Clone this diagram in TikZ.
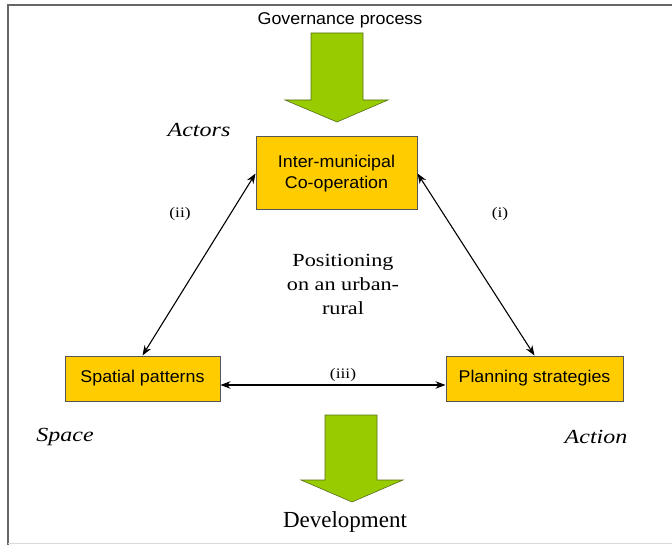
\documentclass[tikz,border=0pt]{standalone}
\usepackage{fontspec}
\setmainfont{Liberation Serif}
\newfontfamily\wserif[FakeStretch=1.2]{Liberation Serif}
\newfontfamily\wsans[FakeStretch=1.05]{Liberation Sans}
\usetikzlibrary{arrows.meta}
\definecolor{boxyellow}{HTML}{FFCC00}
\definecolor{boxedge}{HTML}{555555}
\definecolor{bigarrow}{HTML}{99CC00}
\definecolor{bigarrowedge}{HTML}{55701A}
\tikzset{
  ybox/.style={draw=boxedge, line width=1pt, fill=boxyellow, inner sep=0pt,
    font=\wsans\fontsize{17}{21}\selectfont, align=center},
  link/.style={line width=1.1pt, {Stealth[length=10pt,width=7.5pt]}-{Stealth[length=10pt,width=7.5pt]}},
  greenarrow/.style={fill=bigarrow, draw=bigarrowedge, line width=0.6pt},
  corner/.style={font=\wserif\itshape\fontsize{20}{24}\selectfont},
  roman/.style={font=\wserif\fontsize{14.5}{16}\selectfont},
}
\begin{document}
\begin{tikzpicture}[x=1pt,y=-1pt]
\useasboundingbox (0,0) rectangle (672,545);
% frame
\draw[draw=gray!80!black, line width=2pt] (8,545) -- (8,5) -- (672,5);
\draw[draw=gray!30, line width=1pt] (8,543) -- (672,543);

% top label and arrow
\node[font=\wsans\fontsize{17}{18}\selectfont] (gov) at (340,20) {Governance process};
\draw[greenarrow] (311,33) -- (363,33) -- (363,100) -- (388,100) -- (337,122) -- (285,100) -- (311,100) -- cycle;

% boxes
\node[ybox, minimum width=161pt, minimum height=73pt] (im) at (336.5,173.5) {Inter-municipal\\Co-operation};
\node[ybox, minimum width=155pt, minimum height=45pt] (sp) at (142.5,378.5) {Spatial patterns};
\node[ybox, minimum width=177pt, minimum height=45pt] (pl) at (534.5,378.5) {Planning strategies};

% connectors
\draw[link] (im.west) -- (sp.north);
\draw[link] (im.east) -- (pl.north);
\draw[link] ([yshift=-6.5pt]sp.east) -- ([yshift=-6.5pt]pl.west);

% labels
\node[roman] (lii) at (180,214) {(ii)};
\node[roman] (li) at (500,214) {(i)};
\node[roman] (liii) at (343,375) {(iii)};
\node[corner] (act) at (199,130) {Actors};
\node[corner] (spc) at (65,437) {Space};
\node[corner] (acn) at (596,437) {Action};
\node[font=\wserif\fontsize{18.5}{24}\selectfont, align=center] (pos) at (343,284) {Positioning\\on an urban-\\rural};

% bottom arrow and label
\draw[greenarrow] (325,415) -- (377,415) -- (377,480) -- (403,480) -- (352,502) -- (301,480) -- (325,480) -- cycle;
\node[font=\fontsize{23}{26}\selectfont] (dev) at (345,522) {Development};
\end{tikzpicture}
\end{document}
